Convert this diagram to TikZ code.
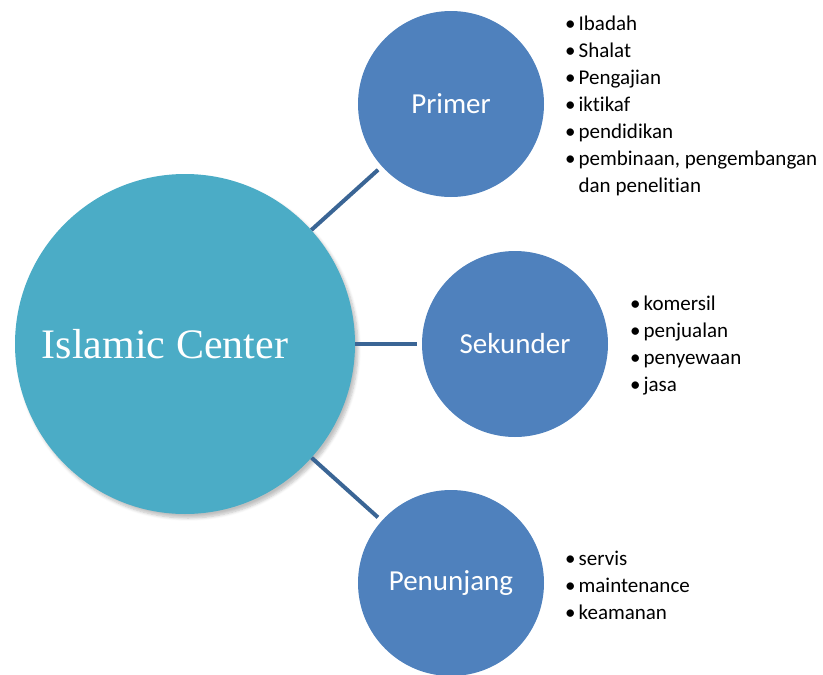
\documentclass[tikz,border=0pt]{standalone}
\usepackage{fontspec}
\setmainfont{Carlito}[Ligatures=NoCommon]
\newfontfamily\serifhub{Liberation Serif}
\usetikzlibrary{shadows.blur}

\definecolor{hubfill}{HTML}{4BACC6}
\definecolor{branchfill}{HTML}{4F81BD}
\definecolor{linkcol}{HTML}{3A6595}

\tikzset{
  hub/.style={circle, fill=hubfill, minimum size=340pt, inner sep=0pt,
    blur shadow={shadow xshift=3pt, shadow yshift=-4pt, shadow blur radius=3pt,
      shadow blur steps=6, shadow opacity=25}},
  branch/.style={circle, fill=branchfill, minimum size=186pt, inner sep=0pt,
    text=white, font=\fontsize{29}{34}\selectfont},
  link/.style={linkcol, line width=4pt, shorten >=5pt},
  items/.style={anchor=base west, inner sep=0pt, font=\fontsize{21}{27}\selectfont}
}
\newcommand\itm[1]{\textbullet & #1\\}

\begin{document}
\begin{tikzpicture}[x=1pt,y=-1pt]
  \useasboundingbox (0,0) rectangle (823,675);

  % centre and the three groups
  \node[hub] (center) at (185,344) {};
  \node[text=white, font=\serifhub\fontsize{42}{48}\selectfont] (centerlbl) at (165,344) {Islamic Center};

  \node[branch] (primer) at (451,104) {Primer};
  \node[branch] (sekunder) at (515,344) {Sekunder};
  \node[branch] (penunjang) at (451,583) {Penunjang};

  \draw[link] (center) -- (primer);
  \draw[link] (center) -- (sekunder);
  \draw[link] (center) -- (penunjang);

  % bullet lists
  \node[items] (primerlist) at (565,30) {\begin{tabular}[t]{@{}l@{\hspace{3pt}}l@{}}
    \itm{Ibadah}
    \itm{Shalat}
    \itm{Pengajian}
    \itm{iktikaf}
    \itm{pendidikan}
    \itm{pembinaan, pengembangan}
    & dan penelitian
  \end{tabular}};
  \node[items] (sekunderlist) at (630,310) {\begin{tabular}[t]{@{}l@{\hspace{3pt}}l@{}}
    \itm{komersil}
    \itm{penjualan}
    \itm{penyewaan}
    \itm{jasa}
  \end{tabular}};
  \node[items] (penunjanglist) at (565,565) {\begin{tabular}[t]{@{}l@{\hspace{3pt}}l@{}}
    \itm{servis}
    \itm{maintenance}
    \itm{keamanan}
  \end{tabular}};
\end{tikzpicture}
\end{document}
